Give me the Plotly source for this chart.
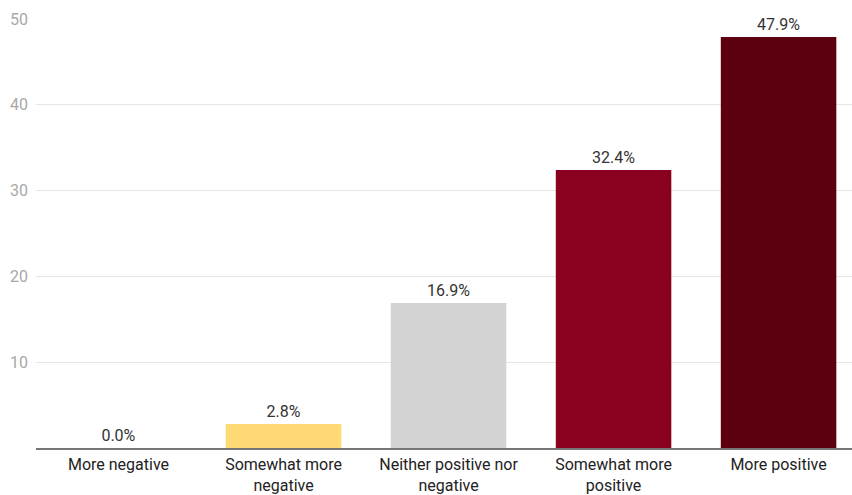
import plotly.graph_objects as go

categories = ["More negative", "Somewhat more<br>negative", "Neither positive nor<br>negative",
              "Somewhat more<br>positive", "More positive"]
values = [0.0, 2.8, 16.9, 32.4, 47.9]
bar_colors = ["#ffd974", "#ffd974", "#d3d3d3", "#8a001f", "#5c0010"]
labels = [f"{v:.1f}%" for v in values]

fig = go.Figure(go.Bar(
    x=list(range(len(categories))), y=values,
    marker=dict(color=bar_colors, line=dict(width=0)),
    text=labels, textposition="outside", cliponaxis=False,
    textfont=dict(family="Roboto", size=16, color="#333333"),
))

fig.update_layout(
    width=852, height=495,
    margin=dict(l=36, r=0, t=19, b=47),
    plot_bgcolor="white", paper_bgcolor="white",
    bargap=0.3, showlegend=False,
    font=dict(family="Roboto"),
    xaxis=dict(
        tickmode="array", tickvals=list(range(len(categories))), ticktext=categories,
        range=[-0.5, 4.445], showgrid=False, zeroline=False,
        showline=True, linecolor="#777777", linewidth=2,
        tickfont=dict(family="Roboto", size=16, color="#222222"),
        ticks="", ticklabelstandoff=1, automargin=False,
    ),
    yaxis=dict(
        range=[0, 50], tickvals=[10, 20, 30, 40, 50],
        showgrid=True, gridcolor="#e6e6e6", gridwidth=1,
        zeroline=False, showline=False,
        tickfont=dict(family="Roboto", size=16, color="#a8a8a8"),
        ticks="", ticklabelstandoff=7, automargin=False,
    ),
)

fig.write_html("out.html")
